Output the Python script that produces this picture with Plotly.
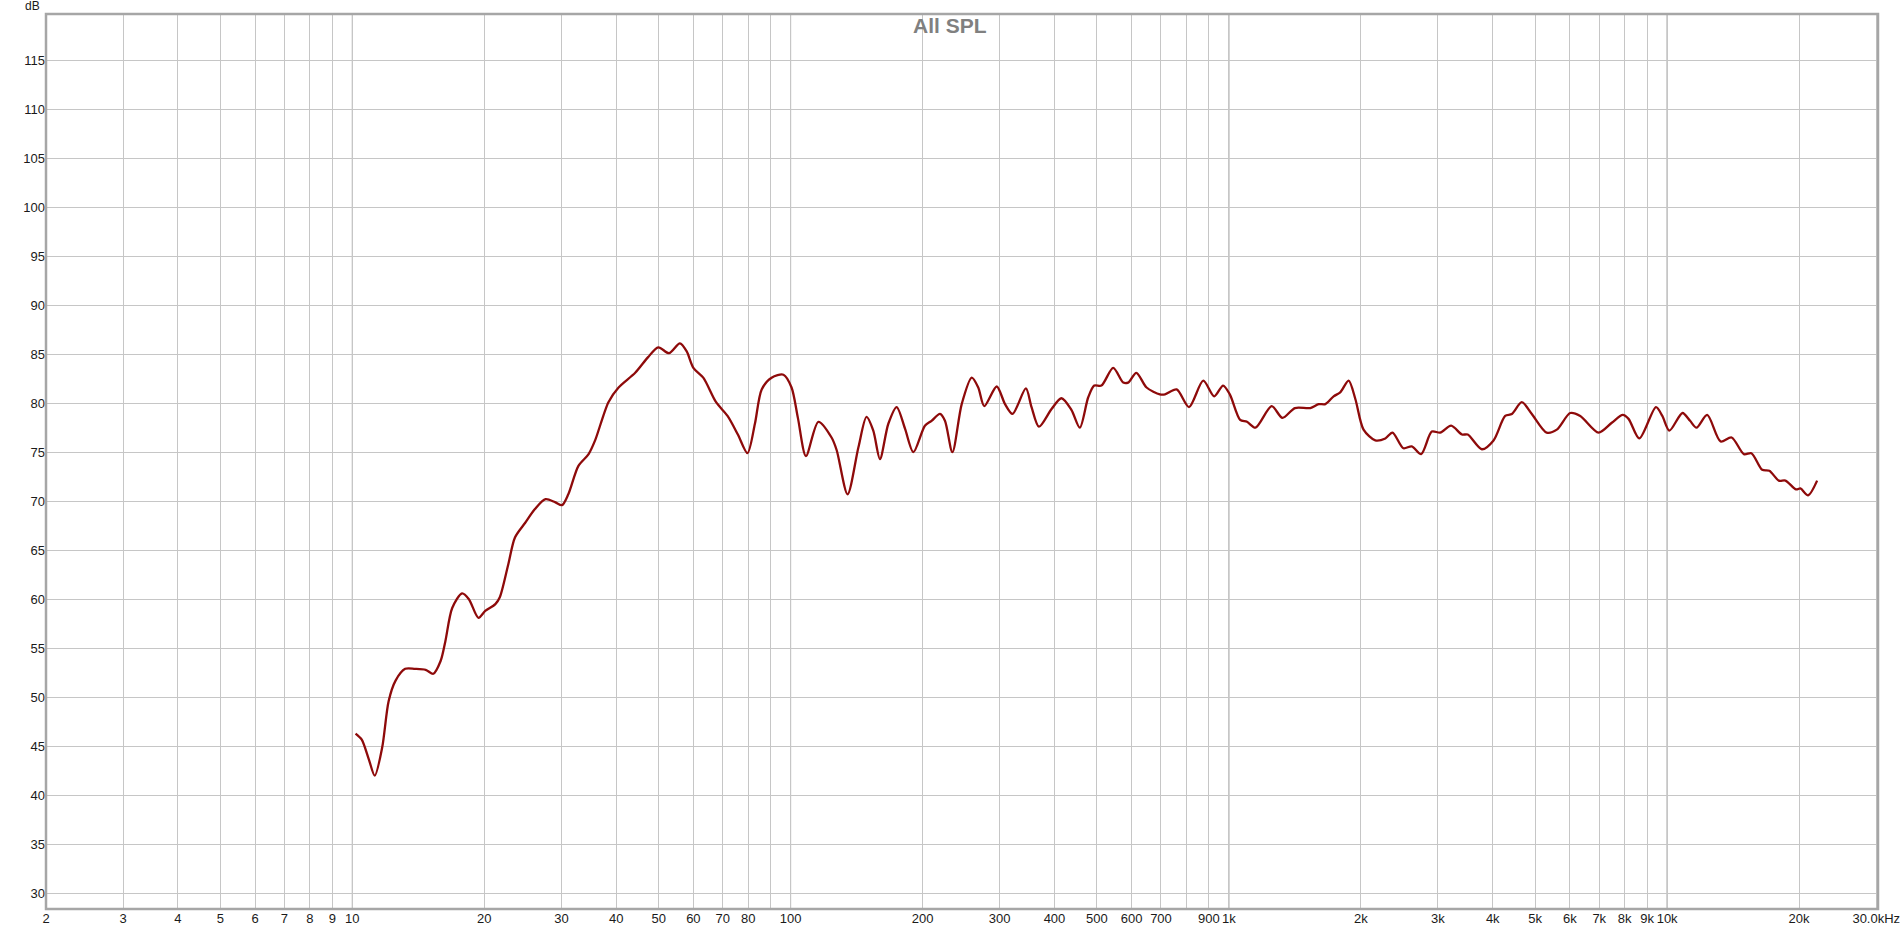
import numpy as np
import plotly.graph_objects as go

# ---- data ----
freq_hz = [10.17, 10.5, 10.9, 11.25, 11.7, 12.1, 12.55, 13.2, 13.9, 14.7, 15.3, 15.9, 16.3, 16.9,
           17.8, 18.45, 19.4, 20.1, 21.2, 21.7, 22.7, 23.5, 24.8, 26.1, 27.6, 29.0, 30.1, 31.1,
           32.8, 34.6, 35.8, 38.4, 40.5, 44.2, 47.3, 49.9, 52.8, 55.9, 57.9, 60.0, 63.2, 67.6,
           71.8, 75.8, 79.7, 82.9, 85.9, 90.5, 96.3, 100.5, 103.9, 108.4, 115.7, 124, 127.4,
           134.9, 142.8, 149, 154.4, 159.9, 167.1, 174.6, 182.4, 190.6, 202.5, 209.7, 219.2,
           225, 234, 245.7, 259, 268, 276.6, 295.3, 308.5, 320.9, 344.2, 354.6, 368.7, 393.9,
           415, 437.5, 457, 477.6, 493, 512, 544.6, 574, 589, 615, 649, 696, 715, 760, 811,
           874, 926, 970, 1005, 1061, 1100, 1150, 1252, 1325, 1415, 1534, 1603, 1660, 1734,
           1795, 1876, 1944, 2029, 2158, 2275, 2362, 2502, 2614, 2746, 2904, 3035, 3215, 3404,
           3508, 3778, 4017, 4270, 4423, 4660, 4912, 5310, 5600, 6010, 6335, 6975, 7476, 7920,
           8165, 8640, 9430, 9750, 10120, 10840, 11280, 11670, 12340, 13240, 14030, 14970,
           15570, 16480, 17110, 17980, 18620, 19690, 20140, 20970, 21990]
spl_db = [46.3, 45.7, 43.7, 42.0, 44.9, 49.6, 51.7, 52.9, 52.9, 52.8, 52.4, 53.7, 55.7, 59.1,
          60.6, 60.0, 58.1, 58.8, 59.5, 60.2, 63.6, 66.3, 67.8, 69.2, 70.2, 69.9, 69.6, 70.7,
          73.6, 74.8, 76.2, 80.1, 81.6, 83.1, 84.7, 85.7, 85.1, 86.1, 85.3, 83.6, 82.6, 80.1,
          78.7, 76.8, 74.9, 77.9, 81.4, 82.6, 82.9, 81.6, 78.5, 74.6, 78.1, 76.5, 75.2,
          70.7, 75.5, 78.6, 77.2, 74.3, 77.9, 79.6, 77.4, 75.0, 77.7, 78.2, 78.9,
          78.2, 75.0, 79.9, 82.6, 81.6, 79.7, 81.7, 79.9, 78.9, 81.5, 79.6, 77.6, 79.4,
          80.5, 79.3, 77.5, 80.6, 81.8, 81.8, 83.6, 82.1, 82.1, 83.1, 81.6, 80.9, 80.9, 81.4, 79.6,
          82.3, 80.7, 81.8, 80.9, 78.3, 78.1, 77.5, 79.7, 78.5, 79.5, 79.5, 79.9, 79.9, 80.7,
          81.1, 82.3, 80.4, 77.3, 76.2, 76.4, 77.0, 75.4, 75.6, 74.8, 77.1, 77.0, 77.7, 76.8,
          76.8, 75.3, 76.2, 78.7, 78.9, 80.1, 78.9, 77.0, 77.3, 79.0, 78.7, 77.0, 78.0, 78.8,
          78.4, 76.4, 79.6, 78.7, 77.2, 79.0, 78.2, 77.5, 78.8, 76.1, 76.5, 74.8,
          74.9, 73.2, 73.1, 72.1, 72.1, 71.2, 71.3, 70.6, 72.1]

x_tick_vals = [2, 3, 4, 5, 6, 7, 8, 9, 10, 20, 30, 40, 50, 60, 70, 80, 90, 100,
               200, 300, 400, 500, 600, 700, 800, 900, 1000, 2000, 3000, 4000, 5000,
               6000, 7000, 8000, 9000, 10000, 20000, 30000]
x_tick_text = ["2", "3", "4", "5", "6", "7", "8", "9", "10", "20", "30", "40", "50", "60",
               "70", "80", "", "100", "200", "300", "400", "500", "600", "700", "", "900",
               "1k", "2k", "3k", "4k", "5k", "6k", "7k", "8k", "9k", "10k", "20k", "30.0kHz"]
y_tick_vals = [30, 35, 40, 45, 50, 55, 60, 65, 70, 75, 80, 85, 90, 95, 100, 105, 110, 115]
decades = [10, 100, 1000, 10000]

title_text = "All SPL"
y_unit = "dB"

FONT = "Liberation Sans, Arial, Helvetica, sans-serif"

fig = go.Figure()
fig.add_trace(go.Scatter(
    x=freq_hz, y=spl_db, mode="lines",
    line=dict(color="#8e0a0a", width=2.3, shape="spline", smoothing=0.8),
    hoverinfo="x+y", showlegend=False,
))

shapes = []
for d in decades:
    shapes.append(dict(type="line", xref="x", yref="paper",
                       x0=d, x1=d, y0=0, y1=1,
                       line=dict(color="#8a8a8a", width=1), layer="between"))
# frame
shapes.append(dict(type="rect", xref="paper", yref="paper", x0=0, x1=1, y0=0, y1=1,
                   line=dict(color="#a6a6a6", width=2.5), layer="above"))

fig.update_layout(
    width=1900, height=930,
    margin=dict(l=46, r=22, t=14, b=21),
    paper_bgcolor="white", plot_bgcolor="white",
    font=dict(family=FONT, size=13, color="#1a1a1a"),
    shapes=shapes,
    annotations=[
        dict(text="<b>" + title_text + "</b>", xref="paper", yref="paper",
             x=0.4934, y=0.9877, xanchor="center", yanchor="middle", showarrow=False,
             font=dict(family=FONT, size=21, color="#808080")),
        dict(text=y_unit, xref="paper", yref="paper", x=-0.0071, y=1.009,
             xanchor="center", yanchor="middle", showarrow=False,
             font=dict(family=FONT, size=12, color="#1a1a1a")),
    ],
)
fig.update_xaxes(
    type="log", range=[np.log10(2), np.log10(30000) + 0.004],
    tickmode="array", tickvals=x_tick_vals, ticktext=x_tick_text,
    showgrid=True, gridcolor="#c6c6c6", gridwidth=1,
    showline=False, zeroline=False, ticks="", automargin=False,
    ticklabeloverflow="allow",
    tickfont=dict(family=FONT, size=13, color="#1a1a1a"),
)
fig.update_yaxes(
    range=[28.4, 119.7],
    tickmode="array", tickvals=y_tick_vals,
    showgrid=True, gridcolor="#c6c6c6", gridwidth=1,
    showline=False, zeroline=False, ticks="", automargin=False,
    tickfont=dict(family=FONT, size=13, color="#1a1a1a"),
)

fig.write_html("out.html", config={"displayModeBar": False},
               post_script="document.body.style.margin='0';")
